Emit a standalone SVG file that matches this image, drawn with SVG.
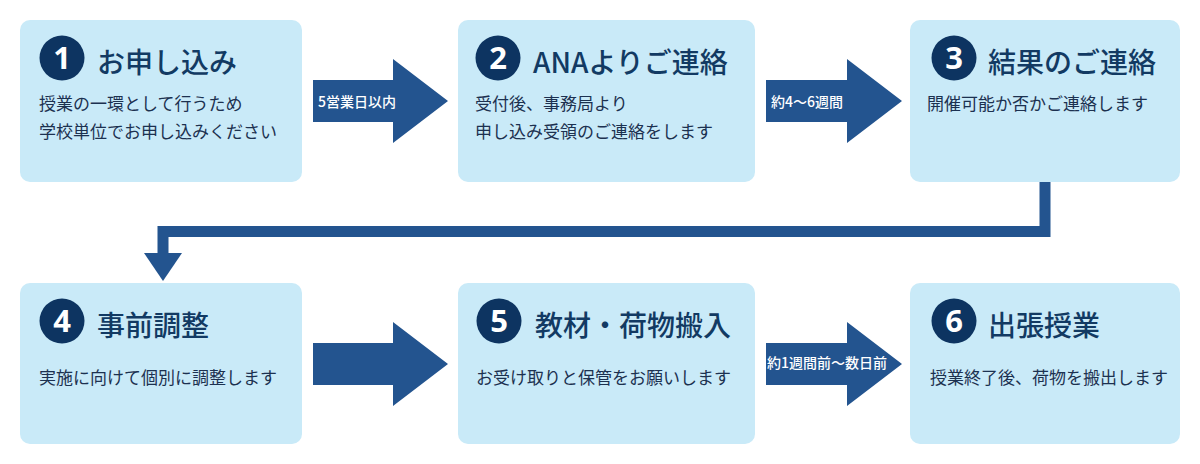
<svg xmlns="http://www.w3.org/2000/svg" width="1200" height="464" viewBox="0 0 1200 464">
<style>
.box{fill:#c9eaf8}
.badge{fill:#0d3461}
.num{fill:#fff;font-family:"Noto Sans","Noto Sans CJK JP",sans-serif;font-weight:700;font-size:31px;text-anchor:middle}
.ttl{fill:#123a63;font-family:"Noto Sans CJK JP",sans-serif;font-weight:500;font-size:28px}
.body{fill:#1c3150;font-family:"Noto Sans CJK JP",sans-serif;font-size:17px}
.lbl{fill:#fff;font-family:"Noto Sans CJK JP",sans-serif;font-weight:500;font-size:14px}
.arw{fill:#23548f}
.line{fill:none;stroke:#23548f;stroke-width:11;stroke-linejoin:miter}
</style>
<rect width="1200" height="464" fill="#fff"/>
<g id="connectors">
  <polygon class="arw" points="313,80 393,80 393,59 448,101 393,143 393,122 313,122"/>
  <text class="lbl" x="318" y="107">5営業日以内</text>
  <polygon class="arw" points="766,80 847,80 847,59 902,101 847,143 847,122 766,122"/>
  <text class="lbl" x="771" y="107">約4〜6週間</text>
  <polyline class="line" points="1045,182 1045,231.5 163,231.5 163,256"/>
  <polygon class="arw" points="144,253 182,253 163,281"/>
  <polygon class="arw" points="313,343 393,343 393,322 448,364 393,406 393,385 313,385"/>
  <polygon class="arw" points="766,343 847,343 847,322 902,364 847,406 847,385 766,385"/>
  <text class="lbl" x="767" y="368">約1週間前〜数日前</text>
</g>
<g id="node1">
  <rect class="box" x="20" y="20" width="282" height="162" rx="10"/>
  <circle class="badge" cx="62" cy="58" r="22.5"/>
  <text class="num" x="62" y="69">1</text>
  <text class="ttl" x="97" y="73">お申し込み</text>
  <text class="body" x="39" y="110">授業の一環として行うため</text>
  <text class="body" x="39" y="138">学校単位でお申し込みください</text>
</g>
<g id="node2">
  <rect class="box" x="458" y="20" width="297" height="162" rx="10"/>
  <circle class="badge" cx="498" cy="58" r="22.5"/>
  <text class="num" x="498" y="69">2</text>
  <text class="ttl" x="533" y="73">ANAよりご連絡</text>
  <text class="body" x="475" y="110">受付後、事務局より</text>
  <text class="body" x="475" y="138">申し込み受領のご連絡をします</text>
</g>
<g id="node3">
  <rect class="box" x="910" y="20" width="270" height="162" rx="10"/>
  <circle class="badge" cx="954" cy="58" r="22.5"/>
  <text class="num" x="954" y="69">3</text>
  <text class="ttl" x="988" y="73">結果のご連絡</text>
  <text class="body" x="927" y="110">開催可能か否かご連絡します</text>
</g>
<g id="node4">
  <rect class="box" x="20" y="283" width="282" height="161" rx="10"/>
  <circle class="badge" cx="62" cy="321" r="22.5"/>
  <text class="num" x="62" y="332">4</text>
  <text class="ttl" x="97" y="336">事前調整</text>
  <text class="body" x="39" y="384">実施に向けて個別に調整します</text>
</g>
<g id="node5">
  <rect class="box" x="458" y="283" width="297" height="161" rx="10"/>
  <circle class="badge" cx="499" cy="321" r="22.5"/>
  <text class="num" x="499" y="332">5</text>
  <text class="ttl" x="535" y="336">教材・荷物搬入</text>
  <text class="body" x="476" y="384">お受け取りと保管をお願いします</text>
</g>
<g id="node6">
  <rect class="box" x="910" y="283" width="270" height="161" rx="10"/>
  <circle class="badge" cx="954" cy="321" r="22.5"/>
  <text class="num" x="954" y="332">6</text>
  <text class="ttl" x="988" y="336">出張授業</text>
  <text class="body" x="930" y="384">授業終了後、荷物を搬出します</text>
</g>
</svg>
